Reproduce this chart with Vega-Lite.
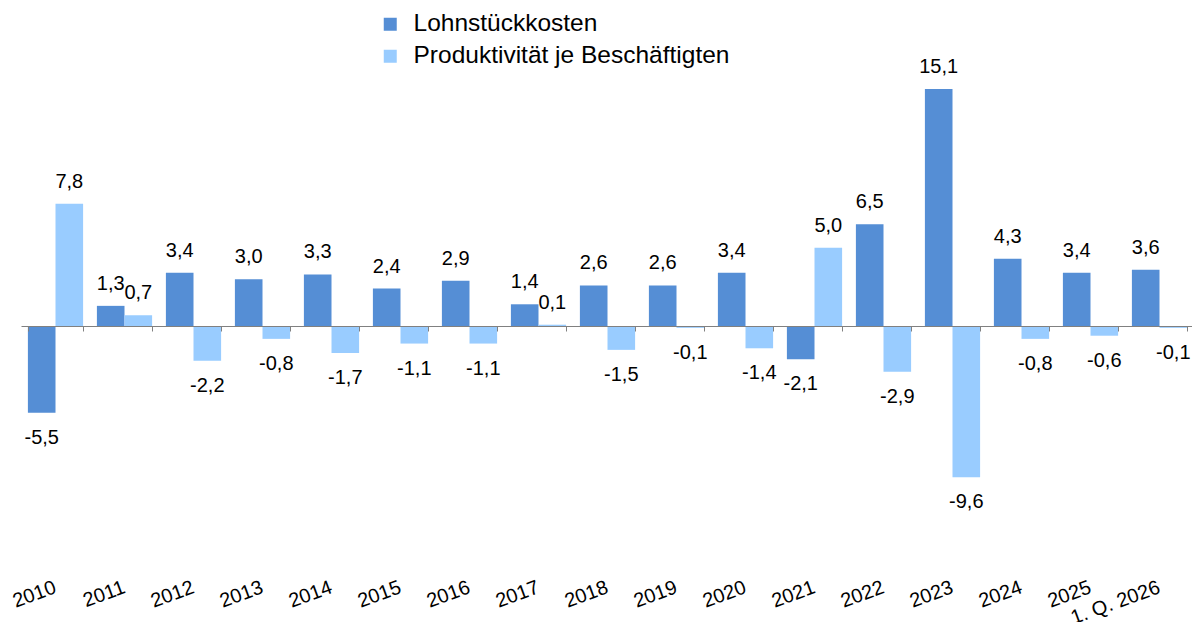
{
  "$schema": "https://vega.github.io/schema/vega-lite/v6.json",
  "autosize": "none",
  "width": 1173,
  "height": 550,
  "padding": {"left": 21, "top": 12, "right": 0, "bottom": 60},
  "background": "white",
  "config": {
    "view": {"stroke": null},
    "font": "Liberation Sans",
    "locale": {"number": {"decimal": ",", "thousands": ".", "grouping": [3], "currency": ["", " €"], "minus": "-"}}
  },
  "data": {
    "values": [
      {"year": "2010", "series": "Lohnstückkosten", "value": -5.5},
      {"year": "2010", "series": "Produktivität je Beschäftigten", "value": 7.8},
      {"year": "2011", "series": "Lohnstückkosten", "value": 1.3},
      {"year": "2011", "series": "Produktivität je Beschäftigten", "value": 0.7},
      {"year": "2012", "series": "Lohnstückkosten", "value": 3.4},
      {"year": "2012", "series": "Produktivität je Beschäftigten", "value": -2.2},
      {"year": "2013", "series": "Lohnstückkosten", "value": 3.0},
      {"year": "2013", "series": "Produktivität je Beschäftigten", "value": -0.8},
      {"year": "2014", "series": "Lohnstückkosten", "value": 3.3},
      {"year": "2014", "series": "Produktivität je Beschäftigten", "value": -1.7},
      {"year": "2015", "series": "Lohnstückkosten", "value": 2.4},
      {"year": "2015", "series": "Produktivität je Beschäftigten", "value": -1.1},
      {"year": "2016", "series": "Lohnstückkosten", "value": 2.9},
      {"year": "2016", "series": "Produktivität je Beschäftigten", "value": -1.1},
      {"year": "2017", "series": "Lohnstückkosten", "value": 1.4},
      {"year": "2017", "series": "Produktivität je Beschäftigten", "value": 0.1},
      {"year": "2018", "series": "Lohnstückkosten", "value": 2.6},
      {"year": "2018", "series": "Produktivität je Beschäftigten", "value": -1.5},
      {"year": "2019", "series": "Lohnstückkosten", "value": 2.6},
      {"year": "2019", "series": "Produktivität je Beschäftigten", "value": -0.1},
      {"year": "2020", "series": "Lohnstückkosten", "value": 3.4},
      {"year": "2020", "series": "Produktivität je Beschäftigten", "value": -1.4},
      {"year": "2021", "series": "Lohnstückkosten", "value": -2.1},
      {"year": "2021", "series": "Produktivität je Beschäftigten", "value": 5.0},
      {"year": "2022", "series": "Lohnstückkosten", "value": 6.5},
      {"year": "2022", "series": "Produktivität je Beschäftigten", "value": -2.9},
      {"year": "2023", "series": "Lohnstückkosten", "value": 15.1},
      {"year": "2023", "series": "Produktivität je Beschäftigten", "value": -9.6},
      {"year": "2024", "series": "Lohnstückkosten", "value": 4.3},
      {"year": "2024", "series": "Produktivität je Beschäftigten", "value": -0.8},
      {"year": "2025", "series": "Lohnstückkosten", "value": 3.4},
      {"year": "2025", "series": "Produktivität je Beschäftigten", "value": -0.6},
      {"year": "1. Q. 2026", "series": "Lohnstückkosten", "value": 3.6},
      {"year": "1. Q. 2026", "series": "Produktivität je Beschäftigten", "value": -0.1}
    ]
  },
  "encoding": {
    "x": {
      "field": "year", "type": "nominal", "sort": null,
      "scale": {"paddingInner": 0.2, "paddingOuter": 0.1},
      "axis": {
        "title": null, "orient": "bottom", "offset": -236,
        "domainColor": "#808080", "domainWidth": 1,
        "tickColor": "#808080", "tickSize": 5, "tickBand": "extent",
        "labelAngle": -20, "labelAlign": "right", "labelBaseline": "top",
        "labelPadding": 246, "labelOffset": -4, "labelFontSize": 20, "labelColor": "black",
        "labelFont": "Liberation Sans", "zindex": 1, "grid": false, "labelOverlap": false
      }
    },
    "xOffset": {"field": "series", "type": "nominal", "sort": ["Lohnstückkosten", "Produktivität je Beschäftigten"], "scale": {"paddingInner": 0, "paddingOuter": 0}},
    "y": {
      "field": "value", "type": "quantitative",
      "scale": {"domain": [-15, 20], "nice": false, "zero": false},
      "axis": null
    }
  },
  "layer": [
    {
      "mark": {"type": "bar"},
      "encoding": {
        "color": {
          "field": "series", "type": "nominal",
          "scale": {"domain": ["Lohnstückkosten", "Produktivität je Beschäftigten"], "range": ["#558ED5", "#99CCFF"]},
          "legend": {
            "title": null, "orient": "none", "legendX": 357, "legendY": 0,
            "symbolType": "square", "symbolSize": 169, "symbolStrokeWidth": 0,
            "labelFontSize": 24.5, "labelFont": "Liberation Sans", "labelColor": "black",
            "labelOffset": 11, "rowPadding": 7, "padding": 0, "labelLimit": 500
          }
        }
      }
    },
    {
      "transform": [{"filter": "datum.value >= 0"}],
      "mark": {"type": "text", "baseline": "alphabetic", "dy": -16, "fontSize": 20, "font": "Liberation Sans", "color": "black"},
      "encoding": {"text": {"field": "value", "type": "quantitative", "format": ".1f"}}
    },
    {
      "transform": [{"filter": "datum.value < 0"}],
      "mark": {"type": "text", "baseline": "alphabetic", "dy": 31, "fontSize": 20, "font": "Liberation Sans", "color": "black"},
      "encoding": {"text": {"field": "value", "type": "quantitative", "format": ".1f"}}
    }
  ]
}
